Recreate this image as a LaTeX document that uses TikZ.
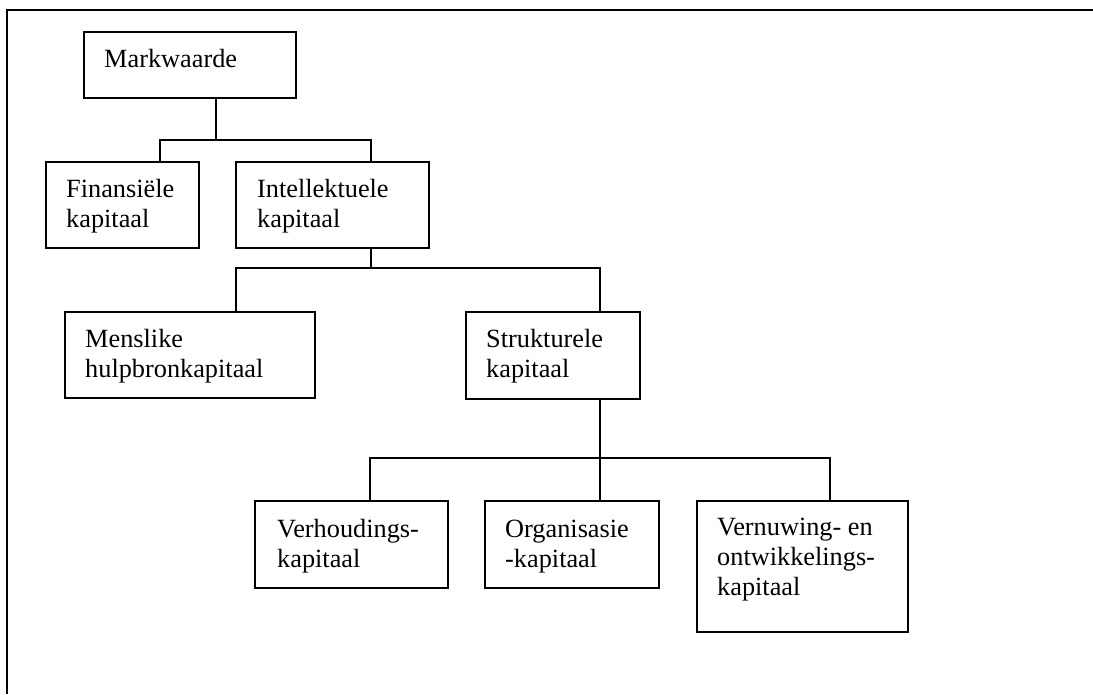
\documentclass[tikz,border=0pt]{standalone}
\usepackage{fontspec}
\setmainfont{Liberation Serif}
\usetikzlibrary{calc}
\begin{document}
\begin{tikzpicture}[x=1pt,y=-1pt,
  box/.style={draw, line width=1.8pt, anchor=north west, inner sep=0pt},
  lbl/.style={anchor=base west, inner sep=0pt, align=left,
    font=\fontsize{26.3}{30}\selectfont},
  link/.style={line width=1.8pt}]
% page and frame
\useasboundingbox (0,0) rectangle (1093,694);
\draw[line width=2.4pt] (7,694) -- (7,10) -- (1093,10);

% boxes: top-left corner, width, height
\node[box, minimum width=212, minimum height=66]  (mw)  at (83,31)  {};
\node[box, minimum width=153, minimum height=86]  (fin) at (45,161) {};
\node[box, minimum width=193, minimum height=86]  (int) at (235,161) {};
\node[box, minimum width=250, minimum height=86]  (men) at (64,311) {};
\node[box, minimum width=174, minimum height=87]  (str) at (465,311) {};
\node[box, minimum width=193, minimum height=87]  (ver) at (254,500) {};
\node[box, minimum width=174, minimum height=87]  (org) at (484,500) {};
\node[box, minimum width=211, minimum height=131] (ven) at (696,500) {};

% labels (anchored at the baseline of the last line)
\node[lbl] (tmw)  at ($(mw.north west)+(21,36)$)  {Markwaarde};
\node[lbl] (tfin) at ($(fin.north west)+(21,66)$) {Finansiële\\kapitaal};
\node[lbl] (tint) at ($(int.north west)+(22,66)$) {Intellektuele\\kapitaal};
\node[lbl] (tmen) at ($(men.north west)+(21,66)$) {Menslike\\hulpbronkapitaal};
\node[lbl] (tstr) at ($(str.north west)+(21,66)$) {Strukturele\\kapitaal};
\node[lbl] (tver) at ($(ver.north west)+(23,67)$) {Verhoudings-\\kapitaal};
\node[lbl] (torg) at ($(org.north west)+(21,67)$) {Organisasie\\-kapitaal};
\node[lbl] (tven) at ($(ven.north west)+(21,95)$) {Vernuwing- en\\ontwikkelings-\\kapitaal};

% junctions
\coordinate (j1) at (216,140);
\coordinate (j2) at (371,268);
\coordinate (j3) at (600,458);

% connectors
\draw[link] (mw.south -| j1) -- (j1);
\draw[link] ($(fin.north west)+(115,0)$) |- (j1) -| ($(int.north west)+(136,0)$);
\draw[link] (int.south -| j2) -- (j2);
\draw[link] ($(men.north west)+(172,0)$) |- (j2) -| ($(str.north west)+(135,0)$);
\draw[link] (str.south -| j3) -- (org.north -| j3);
\draw[link] ($(ver.north west)+(116,0)$) |- (j3) -| ($(ven.north west)+(134,0)$);
\end{tikzpicture}
\end{document}
